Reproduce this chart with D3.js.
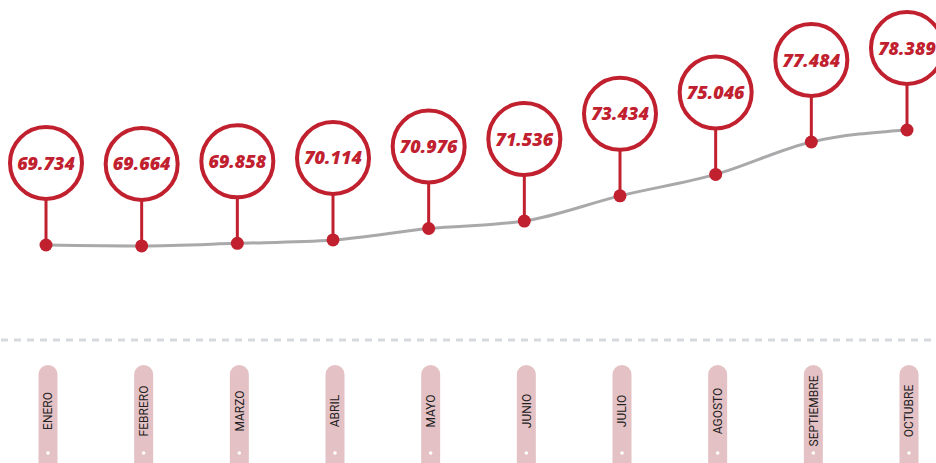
<!DOCTYPE html>
<html>
<head>
<meta charset="utf-8">
<script src="https://cdn.jsdelivr.net/npm/d3@7"></script>
<style>
  html, body { margin: 0; padding: 0; background: #fff; }
  svg { display: block; }
</style>
</head>
<body>
<div id="chart"></div>
<script>
// months and monthly values
var months = ["ENERO", "FEBRERO", "MARZO", "ABRIL", "MAYO", "JUNIO", "JULIO", "AGOSTO", "SEPTIEMBRE", "OCTUBRE"];
var values = [69.734, 69.664, 69.858, 70.114, 70.976, 71.536, 73.434, 75.046, 77.484, 78.389];
var valueLabels = ["69.734", "69.664", "69.858", "70.114", "70.976", "71.536", "73.434", "75.046", "77.484", "78.389"];

var width = 936, height = 463;
var red = "#c1202f";

var svg = d3.select("#chart").append("svg")
    .attr("width", width)
    .attr("height", height);

var x = d3.scalePoint().domain(months).range([46, 907]);
var y = d3.scaleLinear().domain([69.734, 78.389]).range([245, 130]);

var data = months.map(function (m, i) {
    return { month: m, value: values[i], label: valueLabels[i] };
});

// dashed separator
svg.append("line")
    .attr("x1", 1).attr("x2", width)
    .attr("y1", 340).attr("y2", 340)
    .attr("stroke", "#d6d9dd")
    .attr("stroke-width", 3)
    .attr("stroke-dasharray", "7,6");

// month pills
var pills = svg.selectAll(".pill").data(data).enter().append("g")
    .attr("class", "pill")
    .attr("transform", function (d) { return "translate(" + (x(d.month) + 2) + ",0)"; });
pills.append("rect")
    .attr("x", -9.5).attr("y", 365)
    .attr("width", 19).attr("height", 120)
    .attr("rx", 9.5)
    .attr("fill", "#e4c1c4");
pills.append("circle")
    .attr("cx", 0).attr("cy", 453).attr("r", 1.8)
    .attr("fill", "#fff");
pills.append("text")
    .attr("transform", "translate(4.3,411) rotate(-90)")
    .attr("text-anchor", "middle")
    .style("font-family", "Roboto, sans-serif")
    .style("font-size", "12px")
    .style("font-weight", "400")
    .attr("fill", "#222")
    .text(function (d) { return d.month; });

// trend line
var line = d3.line()
    .x(function (d) { return x(d.month); })
    .y(function (d) { return y(d.value); })
    .curve(d3.curveMonotoneX);
svg.append("path")
    .datum(data)
    .attr("d", line)
    .attr("fill", "none")
    .attr("stroke", "#a9a9ab")
    .attr("stroke-width", 3);

// pins
var r = 36, lift = 82;
var pins = svg.selectAll(".pin").data(data).enter().append("g")
    .attr("class", "pin")
    .attr("transform", function (d) { return "translate(" + x(d.month) + "," + y(d.value) + ")"; });
pins.append("line")
    .attr("x1", 0).attr("x2", 0)
    .attr("y1", 0).attr("y2", -lift + r)
    .attr("stroke", red)
    .attr("stroke-width", 3);
pins.append("circle")
    .attr("r", 6.5)
    .attr("fill", red);
pins.append("circle")
    .attr("cy", -lift)
    .attr("r", r)
    .attr("fill", "#fff")
    .attr("stroke", red)
    .attr("stroke-width", 4);
pins.append("text")
    .attr("y", -lift + 6.5)
    .attr("text-anchor", "middle")
    .style("font-family", "'Open Sans', sans-serif")
    .style("font-weight", "800")
    .style("font-style", "italic")
    .style("font-size", "18px")
    .attr("fill", red)
    .text(function (d) { return d.label; });
</script>
</body>
</html>
